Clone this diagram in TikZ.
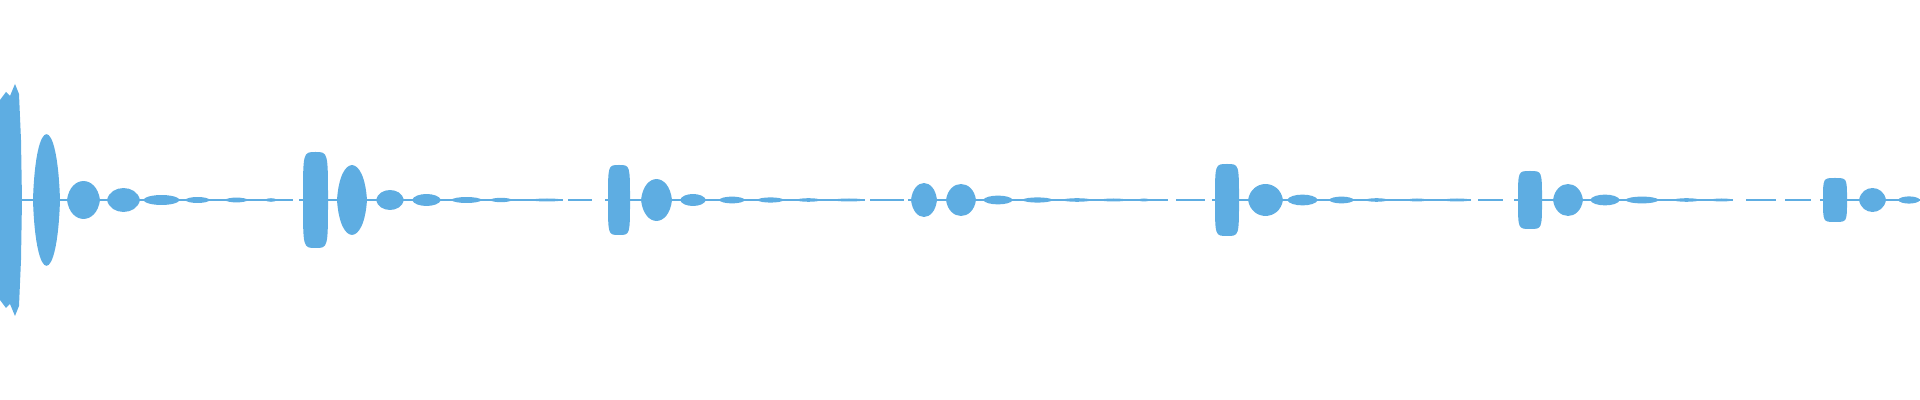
\documentclass[tikz,border=0pt]{standalone}
\definecolor{wave}{RGB}{94,173,226}
\begin{document}
\begin{tikzpicture}[x=0.5pt,y=0.5pt]
\useasboundingbox (0,-200) rectangle (1920,200);
\tikzset{wavefill/.style={fill=wave}}
% baseline segments
\foreach \a/\b in {0/293,299/563,568/592,605/865,870/904,908/1168,1176/1205,1212/1471,1478/1503,1514/1733,1746/1776,1785/1811,1820/1920}
  \fill[wavefill] (\a,-1.2) rectangle (\b,1.2);
% boxy lobes: x1/x2/h
\foreach \a/\b/\h in {303/328/48,608/630/35,1215/1239/36,1518/1542/29,1823/1847/22}
  \fill[wavefill] (\a,0) .. controls (\a,\h) and (\a,\h) .. ({(\a+\b)/2},\h) .. controls (\b,\h) and (\b,\h) .. (\b,0)
     .. controls (\b,-\h) and (\b,-\h) .. ({(\a+\b)/2},-\h) .. controls (\a,-\h) and (\a,-\h) .. cycle;
\fill[wavefill] (0,0) -- (0,100) -- (6,108) -- (10,104) -- (15,116) -- (19,106) -- (21,60) -- (22,0) -- (21,-60) -- (19,-106) -- (15,-116) -- (10,-104) -- (6,-108) -- (0,-100) -- cycle;
% rounded lobes
\foreach \a/\b/\h in {33/60/66,67/100/19,107/140/12,143/180/5,185/210/3,225/248/2.4,265/277/1.8,
  337/367/35,376/404/10,412/441/6,451/482/3,490/512/2.2,531/563/1.5,
  641/672/21,680/706/6,719/745/3.4,757/784/2.6,796/821/1.8,833/865/1.5,
  911/937/17,946/976/16,983/1013/4.4,1022/1053/2.6,1062/1092/1.8,1100/1127/1.5,1138/1150/1.5,
  1248/1283/16,1287/1318/5.4,1329/1354/3.4,1365/1388/1.8,1407/1427/1.5,1443/1471/1.5,
  1553/1583/16,1590/1620/5.4,1625/1659/3.4,1673/1700/1.8,1710/1733/1.5,
  1859/1886/12,1898/1920/3.6}
  \fill[wavefill] (\a,0) .. controls ({\a+0.1*(\b-\a)},1.33*\h) and ({\b-0.1*(\b-\a)},1.33*\h) .. (\b,0) .. controls ({\b-0.1*(\b-\a)},-1.33*\h) and ({\a+0.1*(\b-\a)},-1.33*\h) .. cycle;
\end{tikzpicture}
\end{document}
